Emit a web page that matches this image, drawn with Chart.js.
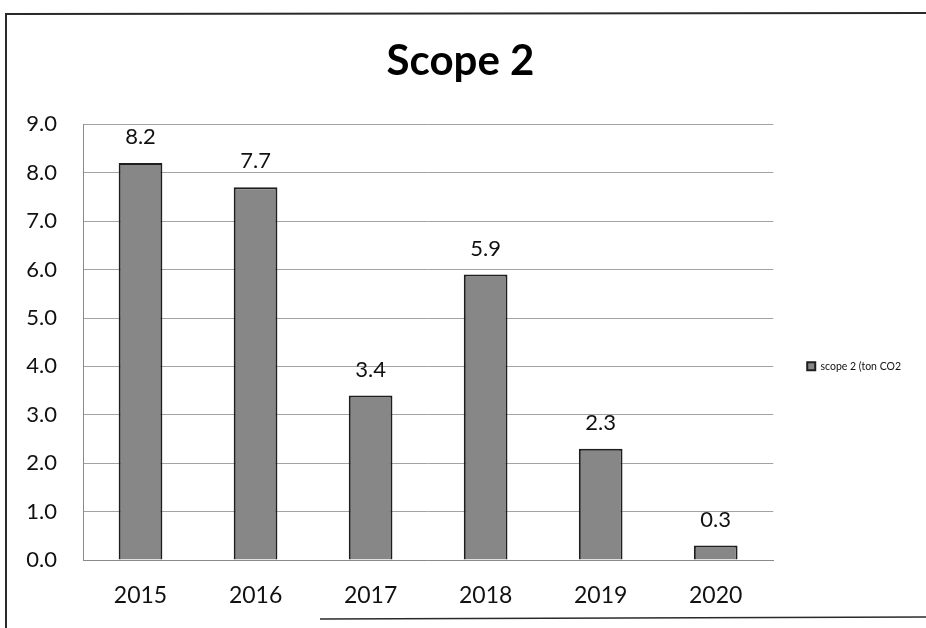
<!DOCTYPE html>
<html>
<head>
<meta charset="utf-8">
<script src="https://cdn.jsdelivr.net/npm/chart.js@4/dist/chart.umd.min.js"></script>
<style>
  html, body { margin: 0; padding: 0; background: #ffffff; }
  #wrap { width: 926px; height: 628px; position: relative; }
</style>
</head>
<body>
<div id="wrap"><canvas id="c" width="926" height="628"></canvas></div>
<script>
const categories = ['2015', '2016', '2017', '2018', '2019', '2020'];
const scope2Values = [8.2, 7.7, 3.4, 5.9, 2.3, 0.3];
const seriesLabel = 'scope 2 (ton CO2';
const chartTitle = 'Scope 2';

const FONT = "Lato, 'Open Sans', sans-serif";

const pageBorder = {
  id: 'pageBorder',
  beforeDraw(chart) {
    const ctx = chart.ctx;
    ctx.save();
    ctx.fillStyle = '#ffffff';
    ctx.fillRect(0, 0, chart.width, chart.height);
    ctx.strokeStyle = '#2a2a2a';
    ctx.lineWidth = 2;
    ctx.beginPath();
    ctx.moveTo(6, 628); ctx.lineTo(6, 14); ctx.lineTo(926, 13);
    ctx.stroke();
    ctx.lineWidth = 1.5;
    ctx.beginPath();
    ctx.moveTo(320, 619); ctx.lineTo(926, 617);
    ctx.stroke();
    ctx.restore();
  }
};

const valueLabels = {
  id: 'valueLabels',
  afterDatasetsDraw(chart) {
    const ctx = chart.ctx;
    const meta = chart.getDatasetMeta(0);
    const data = chart.data.datasets[0].data;
    ctx.save();
    ctx.font = '22px ' + FONT;
    ctx.fillStyle = '#111111';
    ctx.textAlign = 'center';
    ctx.textBaseline = 'middle';
    meta.data.forEach((bar, i) => {
      ctx.fillText(data[i].toFixed(1), bar.x, bar.y - 26);
    });
    ctx.restore();
  }
};

new Chart(document.getElementById('c'), {
  type: 'bar',
  data: {
    labels: categories,
    datasets: [{
      label: seriesLabel,
      data: scope2Values,
      backgroundColor: '#878787',
      borderColor: '#1e1e1e',
      borderWidth: 2,
      categoryPercentage: 1,
      barPercentage: 0.38
    }]
  },
  options: {
    responsive: false,
    animation: false,
    devicePixelRatio: 1,
    layout: { padding: { left: 10, right: 15, top: 0, bottom: 18 } },
    plugins: {
      title: {
        display: true,
        text: chartTitle,
        color: '#000000',
        font: { family: FONT, size: 42, weight: 'bold' },
        padding: { top: 36, bottom: 38 },
        align: 'center',
        fullSize: true
      },
      legend: {
        display: true,
        position: 'right',
        align: 'center',
        title: {
          display: true,
          text: ' ',
          font: { family: FONT, size: 10.5 },
          padding: { top: 55, bottom: 55 }
        },
        labels: {
          color: '#111111',
          font: { family: FONT, size: 10.5 },
          boxWidth: 8,
          boxHeight: 8,
          padding: 34
        }
      },
      tooltip: { enabled: false }
    },
    scales: {
      x: {
        grid: { display: false, drawTicks: false },
        border: { display: true, color: '#8a8a8a', width: 1 },
        ticks: { color: '#111111', font: { family: FONT, size: 23 }, padding: 22 },
        afterFit(scale) { scale.height = 50; }
      },
      y: {
        min: 0,
        max: 9,
        grid: { color: '#a3a3a3', lineWidth: 1, drawTicks: false },
        border: { display: true, color: '#8a8a8a', width: 1 },
        ticks: {
          stepSize: 1,
          color: '#111111',
          font: { family: FONT, size: 22 },
          padding: 26,
          callback: (v) => Number(v).toFixed(1)
        },
        afterFit(scale) { scale.width = 73; }
      }
    }
  },
  plugins: [pageBorder, valueLabels]
});
</script>
</body>
</html>
